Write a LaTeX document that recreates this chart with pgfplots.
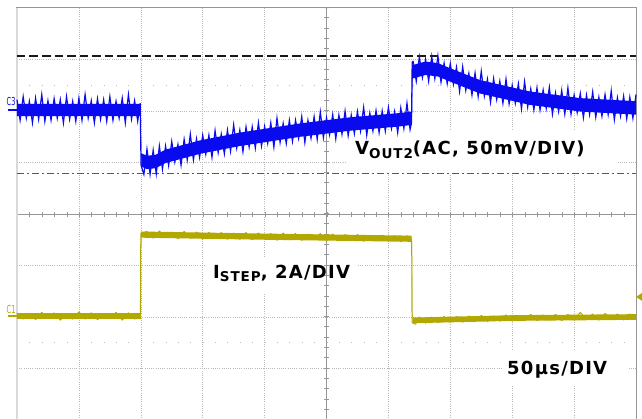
\documentclass[border=0pt]{standalone}
\usepackage{pgfplots}
\pgfplotsset{compat=1.18}
\usepackage{fontspec}
\setmainfont{DejaVu Sans}
\newfontfamily\lbl[LetterSpace=7]{DejaVu Sans}
\definecolor{trblue}{RGB}{10,10,240}
\definecolor{trolive}{RGB}{178,168,0}
\definecolor{gridc}{RGB}{185,185,185}
\definecolor{centc}{RGB}{150,150,150}

\begin{document}
\begin{tikzpicture}
\useasboundingbox (0,0) rectangle (642pt,418pt);
\begin{axis}[
  at={(17pt,-2pt)}, anchor=south west,
  scale only axis, width=619pt, height=412pt,
  xmin=0, xmax=500, ymin=-4, ymax=4,
  xtick={50,100,...,450}, ytick={-3,...,3},
  xticklabels={}, yticklabels={}, major tick length=0pt,
  grid=major,
  major grid style={gridc, line width=0.6pt, dash pattern=on 1pt off 1.2pt},
  axis line style={centc, line width=1pt},
  clip=false,
]
% label boxes hide the graticule
\fill[white] (axis cs:266.6,1.63) rectangle (axis cs:484.7,0.76);
\fill[white] (axis cs:151.9,-0.835) rectangle (axis cs:275.5,-1.515);
\fill[white] (axis cs:392.6,-2.64) rectangle (axis cs:492.8,-3.32);

% centre lines with their ticks, and the two dotted rows
\draw[centc, line width=0.8pt] (axis cs:0,0) -- (axis cs:500,0);
\draw[centc, line width=0.8pt] (axis cs:250,-4) -- (axis cs:250,4);
\draw[centc, line width=5pt, dash pattern=on 0.9pt off 11.48pt] (axis cs:0,0) -- (axis cs:500,0);
\draw[centc, line width=5pt, dash pattern=on 0.9pt off 9.4pt] (axis cs:250,-4) -- (axis cs:250,4);
\draw[gridc, line width=1pt, dash pattern=on 1pt off 11.38pt] (axis cs:0,2.5) -- (axis cs:500,2.5);
\draw[gridc, line width=1pt, dash pattern=on 1pt off 11.38pt] (axis cs:0,-2.5) -- (axis cs:500,-2.5);
\draw[gray!30, line width=2pt] (axis cs:0,-4) -- (axis cs:0,4);

% cursors
\addplot[black!90, line width=1.5pt, dash pattern=on 8.5pt off 4pt] coordinates {(0,3.07) (500,3.07)};
\addplot[black!65, line width=1.3pt, dash pattern=on 7pt off 3pt on 2pt off 3pt] coordinates {(0,0.78) (500,0.78)};

% C3: output voltage, core of the band
\addplot[fill=trblue, draw=none] coordinates {
(0,2.14) (99.5,2.14) (100.3,1.18) (105,1.13) (112,1.15) (120,1.25) (148,1.43)
(180,1.58) (229,1.76) (270,1.88) (309,1.96) (318.6,1.99) (319.2,2.89) (330,2.96)
(340,2.93) (350,2.83) (374,2.60) (414,2.38) (455,2.25) (500,2.19)
(500,1.93) (455,1.99) (414,2.12) (374,2.34) (350,2.57) (340,2.67) (330,2.70)
(319.5,2.63) (318.9,1.73) (309,1.70) (270,1.62) (229,1.50) (180,1.32) (148,1.17)
(120,0.99) (112,0.89) (105,0.87) (100.5,0.92) (99.8,1.90) (0,1.90)} -- cycle;
% C3: ripple
\addplot[trblue, line width=1.2pt] coordinates {
(0,2.22) (2.5,1.82) (5,2.28) (7.5,1.86) (10,2.19) (12.5,1.77) (15,2.25) (17.5,1.84)
(20,2.32) (22.5,1.80) (25,2.20) (27.5,1.82) (30,2.24) (32.5,1.86) (35,2.22) (37.5,1.77)
(40,2.28) (42.5,1.84) (45,2.19) (47.5,1.80) (50,2.25) (52.5,1.82) (55,2.32) (57.5,1.86)
(60,2.20) (62.5,1.77) (65,2.24) (67.5,1.84) (70,2.22) (72.5,1.80) (75,2.28) (77.5,1.82)
(80,2.19) (82.5,1.86) (85,2.25) (87.5,1.77) (90,2.32) (92.5,1.84) (95,2.20) (97.5,1.80)
(99.5,2.15) (100.2,0.95)
(102.5,0.77) (105,1.26) (107.5,0.77) (110,1.24) (112.5,0.78) (115,1.32) (117.5,0.87)
(120,1.32) (122.5,0.94) (125,1.41) (127.5,1.01) (130,1.35) (132.5,0.95) (135,1.45)
(137.5,1.05) (140,1.55) (142.5,1.05) (145,1.46) (147.5,1.10) (150,1.53) (152.5,1.16)
(155,1.53) (157.5,1.10) (160,1.62) (162.5,1.19) (165,1.55) (167.5,1.17) (170,1.63)
(172.5,1.22) (175,1.73) (177.5,1.28) (180,1.63) (182.5,1.21) (185,1.69) (187.5,1.30)
(190,1.69) (192.5,1.28) (195,1.77) (197.5,1.32) (200,1.70) (202.5,1.37) (205,1.77)
(207.5,1.30) (210,1.86) (212.5,1.39) (215,1.76) (217.5,1.37) (220,1.82) (222.5,1.41)
(225,1.82) (227.5,1.47) (230,1.89) (232.5,1.39) (235,1.82) (237.5,1.47) (240,1.89)
(242.5,1.45) (245,1.98) (247.5,1.48) (250,1.87) (252.5,1.54) (255,1.93) (257.5,1.46)
(260,1.92) (262.5,1.55) (265,2.00) (267.5,1.52) (270,1.92) (272.5,1.56) (275,1.99)
(277.5,1.61) (280,2.07) (282.5,1.53) (285,1.96) (287.5,1.61) (290,2.01) (292.5,1.58)
(295,2.00) (297.5,1.61) (300,2.07) (302.5,1.66) (305,1.99) (307.5,1.58) (310,2.06)
(312.5,1.66) (315,2.15) (317.5,1.64) (318.7,1.78) (319.2,2.95)
(320,2.96) (322.5,2.58) (325,3.05) (327.5,2.65) (330,3.00) (332.5,2.58) (335,3.06)
(337.5,2.63) (340,3.07) (342.5,2.56) (345,2.93) (347.5,2.53) (350,2.92) (352.5,2.52)
(355,2.85) (357.5,2.38) (360,2.86) (362.5,2.40) (365,2.73) (367.5,2.31) (370,2.74)
(372.5,2.28) (375,2.77) (377.5,2.29) (380,2.62) (382.5,2.17) (385,2.63) (387.5,2.22)
(390,2.58) (392.5,2.15) (395,2.62) (397.5,2.14) (400,2.50) (402.5,2.15) (405,2.53)
(407.5,2.04) (410,2.57) (412.5,2.08) (415,2.43) (417.5,2.02) (420,2.45) (422.5,2.02)
(425,2.41) (427.5,2.05) (430,2.46) (432.5,1.94) (435,2.35) (437.5,1.99) (440,2.40)
(442.5,1.94) (445,2.45) (447.5,1.94) (450,2.31) (452.5,1.97) (455,2.34) (457.5,1.87)
(460,2.31) (462.5,1.93) (465,2.37) (467.5,1.88) (470,2.27) (472.5,1.90) (475,2.32)
(477.5,1.93) (480,2.39) (482.5,1.83) (485,2.26) (487.5,1.90) (490,2.29) (492.5,1.85)
(495,2.27) (497.5,1.86) (500,2.32)};

% C1: load current step, band and noise
\addplot[fill=trolive, draw=none] coordinates {
(0,-1.925) (99.7,-1.925) (100.1,-0.34) (200,-0.38) (318.8,-0.42) (319.2,-2.005)
(330,-2.005) (400,-1.965) (500,-1.945)
(500,-2.055) (400,-2.075) (330,-2.115) (319.5,-2.115) (319.1,-0.54) (200,-0.50)
(100.4,-0.46) (100,-2.035) (0,-2.035)} -- cycle;
\addplot[trolive, line width=1pt, line join=round] coordinates {
(0,-1.92) (5,-2.04) (10,-1.93) (15,-2.05) (20,-1.91) (25,-2.03) (30,-1.92) (35,-2.06)
(40,-1.93) (45,-2.04) (50,-1.90) (55,-2.04) (60,-1.92) (65,-2.05) (70,-1.93) (75,-2.03)
(80,-1.91) (85,-2.06) (90,-1.92) (95,-2.04) (99.7,-1.98) (100,-0.38)
(105,-0.34) (110,-0.47) (115,-0.33) (120,-0.46) (125,-0.35) (130,-0.48) (135,-0.34)
(140,-0.47) (145,-0.35) (150,-0.49) (155,-0.36) (160,-0.47) (165,-0.36) (170,-0.49)
(175,-0.37) (180,-0.49) (185,-0.36) (190,-0.50) (195,-0.37) (200,-0.49) (205,-0.38)
(210,-0.51) (215,-0.37) (220,-0.50) (225,-0.38) (230,-0.51) (235,-0.39) (240,-0.50)
(245,-0.38) (250,-0.52) (255,-0.39) (260,-0.51) (265,-0.40) (270,-0.52) (275,-0.40)
(280,-0.53) (285,-0.41) (290,-0.52) (295,-0.41) (300,-0.53) (305,-0.42) (310,-0.54)
(315,-0.42) (318.8,-0.50) (319.1,-2.11)
(322,-2.14) (325,-2.00) (330,-2.12) (335,-2.00) (340,-2.11) (345,-1.99) (350,-2.10)
(355,-1.99) (360,-2.10) (365,-1.98) (370,-2.09) (375,-1.97) (380,-2.09) (385,-1.98)
(390,-2.08) (395,-1.96) (400,-2.08) (405,-1.97) (410,-2.07) (415,-1.95) (420,-2.07)
(425,-1.96) (430,-2.06) (435,-1.95) (440,-2.07) (445,-1.95) (450,-2.06) (455,-1.91)
(460,-2.05) (465,-1.94) (470,-2.06) (475,-1.93) (480,-2.05) (485,-1.94) (490,-2.06)
(495,-1.94) (500,-2.05)};

% channel markers
\draw[trblue, line width=1.6pt] (axis cs:-7.3,2.02) -- (axis cs:0,2.02);
\node[text=trblue, font=\fontsize{11}{11}\selectfont, inner sep=0pt] at (axis cs:-4.8,2.19) {\scalebox{0.6}[1]{C3}};
\draw[trolive, line width=1.6pt] (axis cs:-7.3,-1.98) -- (axis cs:0,-1.98);
\node[text=trolive, font=\fontsize{11}{11}\selectfont, inner sep=0pt] at (axis cs:-4.8,-1.85) {\scalebox{0.6}[1]{C1}};
\fill[trolive] (axis cs:500,-1.61) -- (axis cs:505,-1.53) -- (axis cs:505,-1.69) -- cycle;

% annotations
\node[anchor=base west, inner sep=0pt, font=\lbl\bfseries\fontsize{18}{18}\selectfont]
  at (axis cs:273,1.146) {V\raisebox{-4pt}{\fontsize{13.5}{13.5}\selectfont OUT2}(AC, 50mV/DIV)};
\node[anchor=base west, inner sep=0pt, font=\lbl\bfseries\fontsize{18}{18}\selectfont]
  at (axis cs:158.3,-1.262) {I\raisebox{-3pt}{\fontsize{13.5}{13.5}\selectfont STEP}, 2A/DIV};
\node[anchor=base west, inner sep=0pt, font=\lbl\bfseries\fontsize{18}{18}\selectfont]
  at (axis cs:395.8,-3.107) {50µs/DIV};
\end{axis}
\end{tikzpicture}
\end{document}
